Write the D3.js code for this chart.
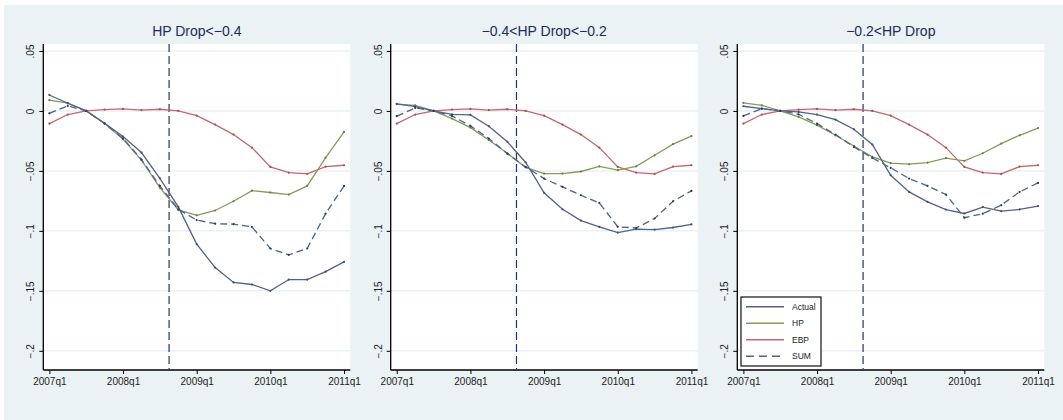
<!DOCTYPE html>
<html>
<head>
<meta charset="utf-8">
<script src="https://cdn.jsdelivr.net/npm/d3@7"></script>
<style>
  body { margin: 0; background: #fff; }
  text { font-family: "Liberation Sans", Arial, sans-serif; }
</style>
</head>
<body>
<div id="chart"></div>
<script>
var svgWidth = 1063;
var svgHeight = 420;

// quarters 2007q1 .. 2011q1 -> index 0..16
var quarters = d3.range(17);
var xTickIdx = [0, 4, 8, 12, 16];
var xTickLabels = ["2007q1", "2008q1", "2009q1", "2010q1", "2011q1"];
var yTicks = [0.05, 0, -0.05, -0.1, -0.15, -0.2];
var yTickLabels = [".05", "0", "\u2212.05", "\u2212.1", "\u2212.15", "\u2212.2"];
var eventQuarter = 6.5;

var titles = ["HP Drop<\u22120.4", "\u22120.4<HP Drop<\u22120.2", "\u22120.2<HP Drop"];

// EBP contribution (same across groups)
var ebp = [-0.0106, -0.003, 0, 0.0011, 0.0017, 0.0006, 0.0014, 0, -0.004, -0.0114, -0.0197, -0.0306, -0.0467, -0.0514, -0.0525, -0.0464, -0.0453];

// group 1: HP Drop < -0.4
var actual1 = [0.0133, 0.0064, 0, -0.0103, -0.0214, -0.0347, -0.0562, -0.080, -0.111, -0.1306, -0.143, -0.1447, -0.150, -0.1406, -0.1406, -0.134, -0.1258];
var hp1 = [0.009, 0.0065, 0, -0.0105, -0.0235, -0.041, -0.064, -0.0825, -0.087, -0.083, -0.0753, -0.0665, -0.068, -0.0697, -0.0625, -0.039, -0.0175];
var sum1 = [-0.002, 0.0042, 0, -0.0105, -0.023, -0.0405, -0.0625, -0.082, -0.091, -0.094, -0.0944, -0.0967, -0.1147, -0.120, -0.1147, -0.0856, -0.0625];

// group 2: -0.4 < HP Drop < -0.2
var actual2 = [0.0058, 0.0036, 0, -0.0028, -0.0033, -0.0127, -0.0257, -0.043, -0.0683, -0.082, -0.0914, -0.0967, -0.1014, -0.0986, -0.0989, -0.0972, -0.0946];
var hp2 = [0.0057, 0.0047, 0, -0.0064, -0.0139, -0.0242, -0.0353, -0.047, -0.0522, -0.0522, -0.0505, -0.0462, -0.0494, -0.0462, -0.037, -0.0277, -0.021];
var sum2 = [-0.0044, 0.0025, 0, -0.0042, -0.0125, -0.023, -0.0356, -0.0467, -0.0564, -0.0633, -0.0703, -0.0767, -0.0966, -0.0976, -0.0897, -0.0753, -0.0667];

// group 3: -0.2 < HP Drop
var actual3 = [0.0039, 0.0019, 0, -0.0008, -0.003, -0.0072, -0.0153, -0.028, -0.0536, -0.0675, -0.0758, -0.0822, -0.0855, -0.0802, -0.0835, -0.0821, -0.0793];
var hp3 = [0.0067, 0.0047, 0, -0.005, -0.0119, -0.0203, -0.0292, -0.0383, -0.0436, -0.0444, -0.0431, -0.0394, -0.0417, -0.0353, -0.0272, -0.0203, -0.0143];
var sum3 = [-0.0042, 0.0019, 0, -0.0028, -0.0106, -0.0197, -0.030, -0.0392, -0.0475, -0.0564, -0.0625, -0.0697, -0.089, -0.0857, -0.0786, -0.0675, -0.060];

var groups = [
  {title: titles[0], actual: actual1, hp: hp1, ebp: ebp, sum: sum1},
  {title: titles[1], actual: actual2, hp: hp2, ebp: ebp, sum: sum2},
  {title: titles[2], actual: actual3, hp: hp3, ebp: ebp, sum: sum3}
];

var seriesInfo = [
  {key: "actual", label: "Actual", color: "#52628b", dash: null},
  {key: "hp", label: "HP", color: "#819e57", dash: null},
  {key: "ebp", label: "EBP", color: "#c5676c", dash: null},
  {key: "sum", label: "SUM", color: "#52628b", dash: "7,4"}
];

var panelLeft = [43.3, 390.7, 737.3];
var plotW = 307;
var plotTop = 44;
var plotBottom = 370;

var svg = d3.select("#chart")
  .append("svg")
  .attr("width", svgWidth)
  .attr("height", svgHeight);

// Stata-ish background
svg.append("rect").attr("width", svgWidth).attr("height", svgHeight).attr("fill", "#fff");
svg.append("rect")
  .attr("x", 4).attr("y", 5)
  .attr("width", svgWidth - 4).attr("height", svgHeight - 5)
  .attr("fill", "#eaf2f3");

var y = d3.scaleLinear()
  .domain([-0.216, 0.0558])
  .range([plotBottom, plotTop]);

groups.forEach(function(g, gi) {
  var left = panelLeft[gi];
  var x = d3.scaleLinear()
    .domain([-0.33, 16.34])
    .range([left, left + plotW]);

  var panel = svg.append("g");

  // plot region
  panel.append("rect")
    .attr("x", left).attr("y", plotTop)
    .attr("width", plotW).attr("height", plotBottom - plotTop)
    .attr("fill", "#fff");

  // gridlines
  panel.selectAll(".grid")
    .data(yTicks)
    .enter().append("line")
    .attr("x1", left).attr("x2", left + plotW)
    .attr("y1", d => y(d)).attr("y2", d => y(d))
    .attr("stroke", "#eaf2f3")
    .attr("stroke-width", 1.5);

  // title
  panel.append("text")
    .attr("x", left + plotW / 2)
    .attr("y", 36)
    .attr("text-anchor", "middle")
    .attr("font-size", "14px")
    .attr("fill", "#1c2c5c")
    .text(g.title);

  // axes
  var leftAxis = d3.axisLeft(y).tickValues(yTicks)
    .tickFormat((d, i) => yTickLabels[i]).tickSize(4).tickSizeOuter(0);
  var yAxisG = panel.append("g")
    .attr("transform", `translate(${left}, 0)`)
    .call(leftAxis);
  yAxisG.select(".domain").attr("stroke", "#000").attr("stroke-width", 1.3)
    .attr("d", `M0,${plotTop}V${plotBottom}`);
  yAxisG.selectAll(".tick line").attr("stroke", "#000");
  yAxisG.selectAll(".tick text")
    .attr("transform", "rotate(-90)")
    .attr("x", 0).attr("y", -9)
    .attr("dy", "0")
    .attr("text-anchor", "middle")
    .attr("font-size", "10px")
    .attr("fill", "#222");

  var bottomAxis = d3.axisBottom(x).tickValues(xTickIdx)
    .tickFormat((d, i) => xTickLabels[i]).tickSize(4).tickSizeOuter(0);
  var xAxisG = panel.append("g")
    .attr("transform", `translate(0, ${plotBottom})`)
    .call(bottomAxis);
  xAxisG.select(".domain").attr("stroke", "#000").attr("stroke-width", 1.3)
    .attr("d", `M${left},0H${left + plotW}`);
  xAxisG.selectAll(".tick line").attr("stroke", "#000");
  xAxisG.selectAll(".tick text")
    .attr("y", 8)
    .attr("font-size", "10px")
    .attr("fill", "#222");

  // event line
  panel.append("line")
    .attr("x1", x(eventQuarter)).attr("x2", x(eventQuarter))
    .attr("y1", plotTop).attr("y2", plotBottom - 1)
    .attr("stroke", "#243463")
    .attr("stroke-width", 1.2)
    .attr("stroke-dasharray", "8,4");

  var line = d3.line()
    .x((d, i) => x(quarters[i]))
    .y(d => y(d));

  // draw in order: EBP, HP, Actual, SUM
  ["ebp", "hp", "actual", "sum"].forEach(function(key) {
    var s = seriesInfo.find(d => d.key === key);
    var vals = g[key];
    panel.append("path")
      .datum(vals)
      .attr("d", line)
      .attr("fill", "none")
      .attr("stroke", s.color)
      .attr("stroke-width", 1.3)
      .attr("stroke-dasharray", s.dash);
    panel.selectAll(".pt-" + key)
      .data(vals)
      .enter().append("circle")
      .attr("cx", (d, i) => x(quarters[i]))
      .attr("cy", d => y(d))
      .attr("r", 1.1)
      .attr("fill", key === "sum" ? "#2c3a66" : d3.color(s.color).darker(0.6));
  });

  // legend in last panel
  if (gi === 2) {
    var lg = panel.append("g");
    lg.append("rect")
      .attr("x", 741).attr("y", 297)
      .attr("width", 80).attr("height", 69)
      .attr("fill", "#fff")
      .attr("stroke", "#222")
      .attr("stroke-width", 1.3);
    seriesInfo.forEach(function(s, si) {
      var ly = 306.7 + si * 16.5;
      lg.append("line")
        .attr("x1", 746).attr("x2", 784)
        .attr("y1", ly).attr("y2", ly)
        .attr("stroke", s.color)
        .attr("stroke-width", 1.5)
        .attr("stroke-dasharray", s.dash ? "8,5" : null);
      lg.append("text")
        .attr("x", 792).attr("y", ly + 3)
        .attr("font-size", "8.5px")
        .attr("fill", "#222")
        .text(s.label);
    });
  }
});
</script>
</body>
</html>
